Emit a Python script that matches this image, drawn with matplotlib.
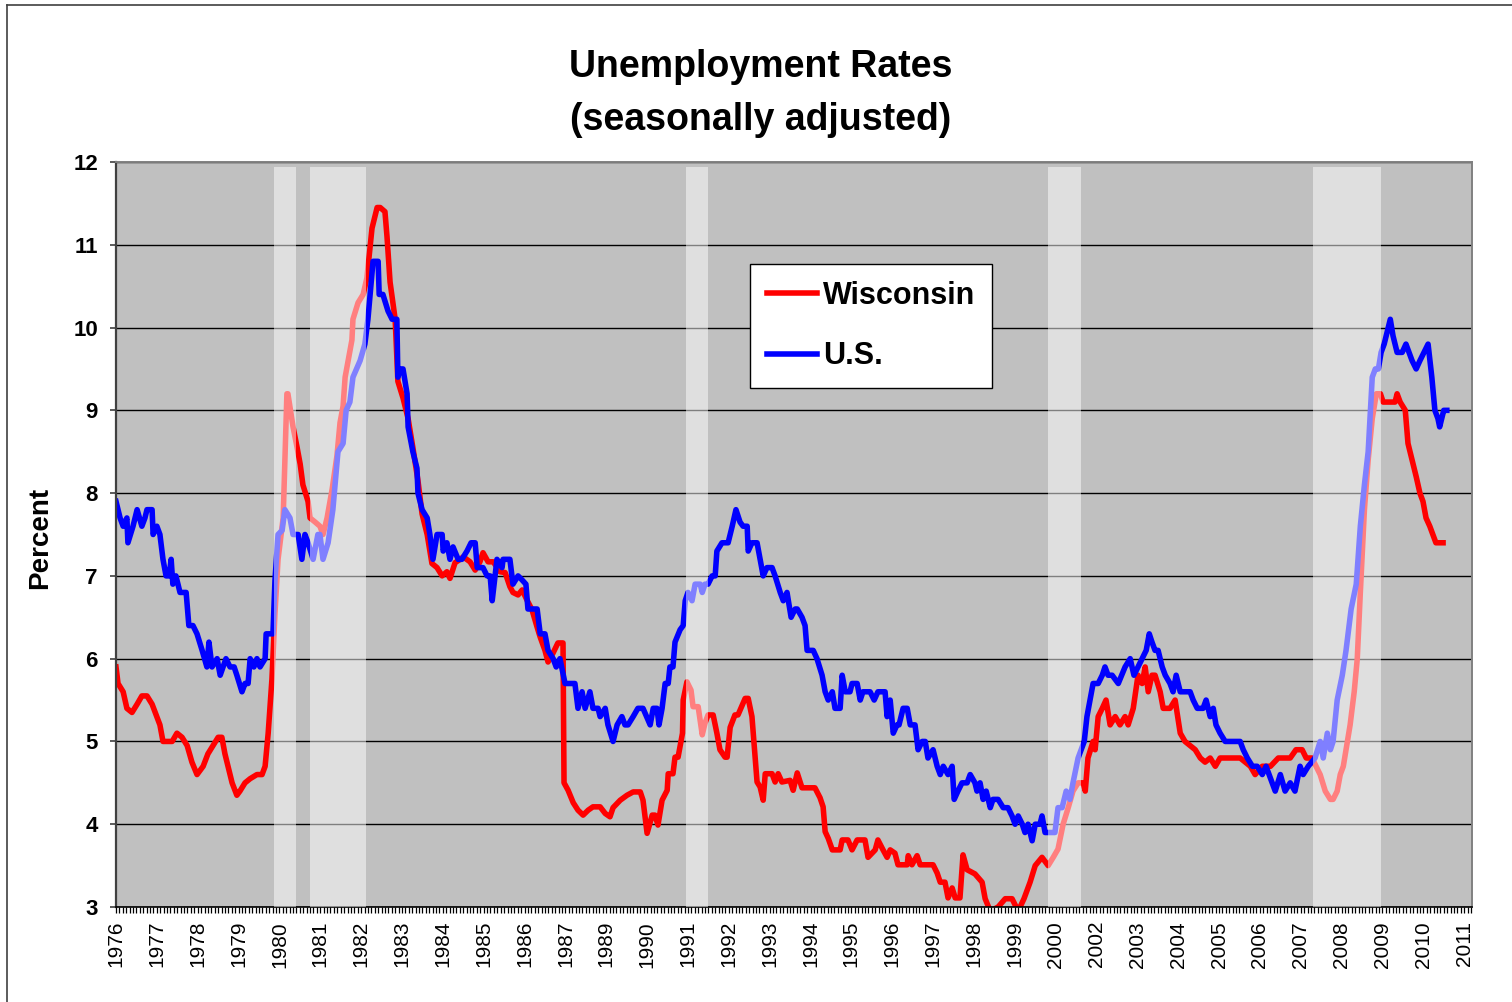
import matplotlib
matplotlib.use("Agg")
import matplotlib.pyplot as plt
from matplotlib.lines import Line2D
from matplotlib.ticker import FixedLocator, MultipleLocator

plt.rcParams['font.family'] = ['Liberation Sans', 'DejaVu Sans']

# ---------------- data (category index = month position on the chart's category axis) -------------
us_x = [0, 1.2, 2.1, 3.2, 3.5, 5.0, 6.2, 7.6, 8.5, 9.1, 10.6, 10.9, 12.0, 12.9, 13.8, 14.7, 15.6, 16.2,
        16.7, 17.6, 18.8, 20.6, 21.4, 22.6, 23.8, 25.3, 26.7, 27.3, 28.2, 29.7, 30.6, 32.3, 33.5, 34.7,
        35.5, 37.0, 37.9, 38.8, 39.4, 40.5, 41.4, 42.3, 43.8, 44.1, 46.1, 46.7, 47.6, 48.8, 49.6, 51.1,
        52.0, 53.5, 54.6, 55.5, 56.4, 57.9, 59.3, 59.9, 60.8, 62.3, 63.7, 65.2, 66.7, 67.6, 68.7, 69.6,
        71.7, 73.1, 74.0, 75.5, 77.0, 77.3, 78.4, 79.9, 81.1, 82.5, 82.8, 83.4, 84.3, 85.5, 85.8, 87.2,
        88.4, 88.7, 89.9, 91.4, 92.2, 93.1, 94.3, 95.8, 96.1, 97.2, 98.1, 99.0, 100.5, 101.6, 103.1,
        104.3, 105.5, 106.1, 107.8, 109.0, 109.9, 110.5, 111.9, 113.4, 113.7, 115.7, 116.6, 118.1,
        119.3, 120.4, 121.0, 123.7, 124.6, 126.0, 126.9, 128.4, 129.3, 130.4, 131.9, 134.8, 135.7,
        136.9, 137.8, 139.2, 140.1, 141.6, 142.2, 143.7, 144.5, 146.0, 147.2, 148.6, 149.5, 150.4,
        151.9, 153.3, 154.8, 156.9, 157.8, 158.9, 159.5, 160.4, 161.3, 162.2, 162.7, 163.6, 164.2,
        165.7, 166.6, 167.2, 168.0, 169.2, 170.1, 171.6, 172.2, 173.0, 173.9, 175.1, 176.0, 176.5,
        178.0, 179.8, 181.0, 182.1, 183.3, 184.2, 185.4, 185.7, 186.8, 188.3, 189.2, 190.1, 191.2,
        192.7, 193.6, 195.1, 196.0, 197.1, 198.3, 199.5, 200.1, 201.5, 202.4, 203.0, 204.8, 205.9,
        207.4, 208.3, 209.2, 210.4, 211.2, 212.7, 213.3, 214.2, 215.6, 216.2, 217.7, 218.6, 219.4,
        221.5, 222.7, 223.8, 225.9, 226.5, 227.4, 228.3, 229.4, 230.0, 231.2, 232.4, 233.3, 234.7,
        235.6, 236.8, 237.7, 238.5, 240.0, 241.2, 242.1, 243.0, 244.4, 245.6, 246.2, 247.3, 248.5,
        250.0, 250.9, 252.3, 252.9, 253.8, 254.7, 255.6, 256.8, 257.6, 259.1, 260.6, 262.0, 263.2,
        264.1, 265.0, 266.2, 267.0, 267.9, 269.1, 270.0, 271.4, 272.0, 272.9, 274.4, 275.8, 276.7,
        277.9, 279.1, 280.2, 281.1, 282.6, 283.5, 284.4, 285.2, 286.1, 287.0, 288.5, 289.7, 290.5,
        291.4, 292.6, 294.4, 296.4, 297.9, 299.0, 300.2, 301.4, 302.6, 303.5, 304.3, 305.2, 306.1,
        307.3, 308.2, 309.6, 310.5, 311.4, 312.6, 315.5, 316.4, 317.6, 319.3, 320.2, 321.4, 322.3,
        323.1, 324.3, 325.8, 330.2, 331.1, 332.3, 333.8, 335.2, 336.7, 337.8, 339.6, 340.5, 342.0,
        343.4, 344.9, 346.3, 347.8, 348.7, 350.2, 352.2, 353.7, 354.6, 355.8, 356.7, 357.5, 358.7,
        360.2, 361.3, 362.8, 364.3, 365.5, 366.7, 367.8, 369.0, 369.9, 370.8, 371.6, 372.5, 374.3,
        375.1, 376.3, 377.8, 378.9, 380.7, 381.9, 383.0, 384.2, 385.4, 386.5, 387.4, 388.3, 388.8,
        390.0, 390.9]
us_y = [7.9, 7.7, 7.6, 7.7, 7.4, 7.6, 7.8, 7.6, 7.7, 7.8, 7.8, 7.5, 7.6, 7.5, 7.2, 7.0, 7.0, 7.2,
        6.9, 7.0, 6.8, 6.8, 6.4, 6.4, 6.3, 6.1, 5.9, 6.2, 5.9, 6.0, 5.8, 6.0, 5.9, 5.9,
        5.8, 5.6, 5.7, 5.7, 6.0, 5.9, 6.0, 5.9, 6.0, 6.3, 6.3, 6.95, 7.5, 7.55, 7.8, 7.7,
        7.5, 7.5, 7.2, 7.5, 7.4, 7.2, 7.5, 7.5, 7.2, 7.4, 7.8, 8.5, 8.6, 9.0, 9.1, 9.4,
        9.6, 9.8, 10.1, 10.8, 10.8, 10.4, 10.4, 10.2, 10.1, 10.1, 9.4, 9.5, 9.5, 9.2, 8.8, 8.5,
        8.3, 8.0, 7.8, 7.7, 7.5, 7.2, 7.5, 7.5, 7.3, 7.4, 7.2, 7.35, 7.2, 7.2, 7.3,
        7.4, 7.4, 7.1, 7.1, 7.0, 7.0, 6.7, 7.2, 7.1, 7.2, 7.2, 6.9, 7.0,
        6.95, 6.9, 6.6, 6.6, 6.3, 6.3, 6.1, 6.0, 5.9, 6.0, 5.7, 5.7, 5.4,
        5.6, 5.4, 5.6, 5.4, 5.4, 5.3, 5.4, 5.2, 5.0, 5.2, 5.3, 5.2, 5.2,
        5.3, 5.4, 5.4, 5.2, 5.4, 5.4, 5.2, 5.4, 5.7, 5.7, 5.9, 5.9, 6.2,
        6.35, 6.4, 6.7, 6.8, 6.7, 6.9, 6.9, 6.8, 6.9, 6.9, 7.0, 7.0, 7.3,
        7.4, 7.4, 7.6, 7.8, 7.65, 7.6, 7.6, 7.3, 7.4, 7.4, 7.2, 7.0, 7.1,
        7.1, 7.0, 6.8, 6.7, 6.8, 6.5, 6.6, 6.6, 6.5, 6.4, 6.1, 6.1, 6.0,
        5.8, 5.6, 5.5, 5.6, 5.4, 5.4, 5.8, 5.6, 5.6, 5.7, 5.7, 5.5, 5.6,
        5.6, 5.5, 5.6, 5.6, 5.3, 5.5, 5.1, 5.2, 5.2, 5.4, 5.4, 5.2, 5.2,
        4.9, 5.0, 5.0, 4.8, 4.9, 4.7, 4.6, 4.7, 4.6, 4.7, 4.3, 4.4, 4.5,
        4.5, 4.6, 4.5, 4.4, 4.5, 4.3, 4.4, 4.2, 4.3, 4.3, 4.2, 4.2, 4.1,
        4.0, 4.1, 4.0, 3.9, 4.0, 3.8, 4.0, 4.0, 4.1, 3.9, 3.9, 3.9, 4.2,
        4.2, 4.4, 4.3, 4.5, 4.8, 4.9, 5.0, 5.3, 5.5, 5.7, 5.7, 5.8, 5.9,
        5.8, 5.8, 5.7, 5.9, 6.0, 5.8, 5.9, 6.0, 6.1, 6.3, 6.2, 6.1, 6.1,
        5.9, 5.8, 5.7, 5.6, 5.8, 5.6, 5.6, 5.5, 5.4, 5.4, 5.5, 5.3, 5.4,
        5.2, 5.1, 5.0, 5.0, 4.9, 4.8, 4.7, 4.7, 4.6, 4.7, 4.5, 4.4, 4.6,
        4.4, 4.5, 4.4, 4.7, 4.6, 4.7, 4.8, 5.0, 4.8, 5.1, 4.9, 5.0, 5.5,
        5.8, 6.1, 6.6, 6.9, 7.6, 8.1, 8.5, 9.4, 9.5, 9.5, 9.7, 9.8, 10.1,
        9.9, 9.7, 9.7, 9.8, 9.6, 9.5, 9.6, 9.7, 9.8, 9.4, 9.0, 8.9, 8.8,
        9.0, 9.0]

wi_x = [0, 0.6, 2.1, 3.2, 4.7, 6.2, 7.6, 9.1, 10.6, 12.0, 12.9, 13.8, 15.0, 16.5, 17.9, 19.4, 20.9,
        22.3, 23.8, 25.6, 27.0, 28.5, 30.0, 31.1, 32.0, 32.9, 34.1, 35.5, 36.4, 37.9, 39.4, 41.4,
        42.9, 43.8, 44.7, 45.8, 46.7, 47.6, 49.1, 50.2, 50.5, 52.0, 53.2, 54.1, 54.9, 56.4, 57.0,
        58.5, 59.9, 60.8, 62.0, 63.5, 64.9, 65.8, 66.7, 67.3, 68.2, 69.3, 69.6, 71.1, 72.6, 73.7,
        75.2, 76.7, 77.6, 79.0, 79.6, 80.5, 82.0, 82.8, 84.3, 85.8, 87.2, 88.7, 89.9, 91.4, 92.8,
        94.3, 95.8, 97.2, 98.1, 99.6, 101.1, 102.0, 104.0, 105.5, 106.9, 107.8, 109.3, 110.8, 112.8,
        114.3, 115.7, 116.6, 118.1, 119.3, 120.7, 122.2, 123.7, 124.6, 126.0, 126.9, 128.4, 129.8,
        131.3, 131.6, 132.8, 134.3, 135.7, 137.2, 138.7, 140.1, 142.2, 143.7, 145.1, 146.0, 148.1,
        150.1, 151.9, 154.0, 154.8, 156.0, 157.5, 158.3, 159.2, 160.4, 161.9, 162.2, 163.6, 164.2,
        165.1, 166.4, 166.6, 167.7, 168.9, 169.5, 171.0, 172.2, 173.0, 173.9, 175.4, 176.5, 177.4,
        178.9, 179.5, 180.4, 181.8, 182.7, 184.8, 185.7, 186.8, 188.3, 189.2, 190.1, 190.7, 192.7,
        193.6, 194.5, 195.6, 198.0, 198.9, 200.1, 201.5, 205.3, 206.8, 207.7, 208.3, 209.2, 210.4,
        212.7, 213.3, 215.0, 216.2, 217.7, 220.0, 220.9, 223.0, 223.8, 225.3, 226.5, 227.4, 228.8,
        229.7, 232.4, 232.7, 233.8, 235.3, 236.2, 240.0, 241.2, 242.1, 243.5, 244.4, 245.6, 246.5,
        247.9, 248.8, 250.0, 252.3, 254.4, 255.3, 256.8, 259.1, 261.2, 263.2, 265.0, 266.7, 268.5,
        270.0, 272.0, 273.8, 275.3, 276.7, 278.2, 279.7, 281.1, 282.6, 284.1, 284.7, 285.5, 287.0,
        287.6, 288.5, 289.7, 290.8, 292.0, 293.5, 294.9, 296.4, 297.3, 298.8, 300.2, 301.4, 302.3,
        303.2, 304.3, 305.2, 306.7, 307.6, 309.6, 311.1, 312.6, 314.0, 315.5, 317.0, 318.5, 319.9,
        321.4, 322.9, 324.3, 330.2, 333.2, 334.6, 336.7, 339.1, 341.4, 344.9, 346.6, 348.4, 349.6,
        351.3, 352.5, 353.7, 355.2, 356.7, 357.5, 358.7, 359.6, 360.5, 361.3, 362.5, 363.7, 364.6,
        365.5, 366.7, 367.8, 369.0, 370.2, 371.4, 372.2, 375.7, 376.3, 377.2, 378.7, 379.5, 380.7,
        381.9, 383.0, 383.9, 384.8, 385.9, 386.8, 387.7, 389.8]
wi_y = [5.9, 5.7, 5.6, 5.4, 5.35, 5.45, 5.55, 5.55, 5.45, 5.3, 5.2, 5.0, 5.0, 5.0, 5.1, 5.05, 4.95,
        4.75, 4.6, 4.7, 4.85, 4.95, 5.05, 5.05, 4.85, 4.7, 4.5, 4.35, 4.4, 4.5, 4.55, 4.6,
        4.6, 4.7, 5.1, 5.75, 6.55, 7.2, 7.7, 9.2, 9.2, 8.8, 8.55, 8.35, 8.1, 7.9, 7.7,
        7.65, 7.6, 7.5, 7.7, 8.05, 8.45, 8.85, 9.05, 9.4, 9.6, 9.85, 10.1, 10.3, 10.4, 10.6,
        11.2, 11.45, 11.45, 11.4, 11.1, 10.55, 10.1, 9.35, 9.15, 8.9, 8.55, 8.15, 7.75, 7.5, 7.15,
        7.1, 7.0, 7.05, 6.97, 7.16, 7.2, 7.23, 7.17, 7.07, 7.17, 7.28, 7.17, 7.17, 7.05,
        7.04, 6.87, 6.8, 6.77, 6.83, 6.71, 6.59, 6.38, 6.26, 6.1, 5.96, 6.07, 6.19,
        6.19, 4.5, 4.41, 4.26, 4.17, 4.11, 4.17, 4.21, 4.21, 4.13, 4.09, 4.2, 4.29,
        4.35, 4.39, 4.39, 4.29, 3.89, 4.11, 4.11, 3.99, 4.29, 4.41, 4.61, 4.61, 4.81,
        4.81, 5.1, 5.5, 5.72, 5.62, 5.42, 5.42, 5.08, 5.22, 5.32, 5.32, 5.1, 4.9,
        4.81, 4.81, 5.17, 5.32, 5.32, 5.52, 5.52, 5.3, 4.51, 4.45, 4.29, 4.61, 4.61,
        4.51, 4.61, 4.51, 4.53, 4.41, 4.62, 4.44, 4.44, 4.32, 4.21, 3.91, 3.83, 3.69,
        3.69, 3.81, 3.81, 3.69, 3.81, 3.81, 3.6, 3.69, 3.81, 3.69, 3.6, 3.69, 3.65,
        3.51, 3.51, 3.62, 3.51, 3.62, 3.51, 3.51, 3.41, 3.3, 3.3, 3.11, 3.23, 3.11,
        3.11, 3.63, 3.45, 3.4, 3.3, 3.1, 2.95, 3.0, 3.1, 3.1, 2.95, 3.1, 3.3,
        3.5, 3.6, 3.5, 3.6, 3.7, 4.0, 4.2, 4.4, 4.5, 4.5, 4.4, 4.8, 5.0,
        4.9, 5.3, 5.4, 5.5, 5.2, 5.3, 5.2, 5.3, 5.2, 5.4, 5.8, 5.7, 5.9,
        5.6, 5.8, 5.8, 5.6, 5.4, 5.4, 5.5, 5.1, 5.0, 4.95, 4.9, 4.8, 4.75,
        4.8, 4.7, 4.8, 4.8, 4.7, 4.6, 4.7, 4.7, 4.8, 4.8, 4.9, 4.9, 4.8,
        4.8, 4.7, 4.6, 4.4, 4.3, 4.3, 4.4, 4.6, 4.7, 4.9, 5.2, 5.6, 6.0,
        6.8, 7.8, 8.4, 8.9, 9.2, 9.2, 9.1, 9.1, 9.2, 9.1, 9.0, 8.6, 8.4,
        8.2, 8.0, 7.9, 7.7, 7.6, 7.5, 7.4, 7.4]

recession_start = [46.4, 57.0, 167.4, 273.8, 351.6]
recession_end = [52.9, 73.4, 173.9, 283.5, 371.6]

year_labels = ['1976', '1977', '1978', '1979', '1980', '1981', '1982', '1983', '1984', '1985',
               '1986', '1987', '1989', '1990', '1991', '1992', '1993', '1994', '1995', '1996',
               '1997', '1998', '1999', '2000', '2002', '2003', '2004', '2005', '2006', '2007',
               '2008', '2009', '2010', '2011']
n_categories = 398.3

# ---------------- figure ----------------
W, H, DPI = 1512, 1002, 100
fig = plt.figure(figsize=(W / DPI, H / DPI), dpi=DPI, facecolor='white')
ax = fig.add_axes([116 / W, 1 - 907 / H, (1472 - 116) / W, (907 - 162) / H])
ax.set_facecolor('#C0C0C0')

ax.set_xlim(0, n_categories)
ax.set_ylim(3, 12)

# gridlines
ax.set_yticks(range(3, 13))
ax.yaxis.grid(True, color='#000000', linewidth=1.0, zorder=1)
ax.set_axisbelow(True)

ax.plot(wi_x, wi_y, color='#FF0000', linewidth=4.0, zorder=2, label='Wisconsin',
        solid_joinstyle='round')
ax.plot(us_x, us_y, color='#0000FF', linewidth=4.0, zorder=2.1, label='U.S.',
        solid_joinstyle='round')

for s, e in zip(recession_start, recession_end):
    ax.axvspan(s, e, ymin=0, ymax=0.993, facecolor='white', alpha=0.5, linewidth=0, zorder=3)

# axes ticks
label_pos = [12 * k for k in range(len(year_labels))]
ax.xaxis.set_major_locator(FixedLocator(label_pos))
ax.set_xticklabels(year_labels, rotation=90, fontsize=15)
ax.xaxis.set_minor_locator(MultipleLocator(1))
ax.tick_params(axis='x', which='both', direction='out', length=4, width=0.9, color='#000000', pad=6)
ax.tick_params(axis='y', which='major', direction='out', length=4, width=1.2, color='#404040',
               labelsize=16, pad=9)
for lab in ax.get_yticklabels():
    lab.set_fontweight('bold')

for side in ('top', 'right'):
    ax.spines[side].set_color('#808080')
    ax.spines[side].set_linewidth(1.4)
ax.spines['left'].set_color('#404040')
ax.spines['left'].set_linewidth(1.6)
ax.spines['bottom'].set_color('#000000')
ax.spines['bottom'].set_linewidth(1.2)

leg = ax.legend(loc='upper left', bbox_to_anchor=((750 - 116) / 1356, (907 - 264) / 745),
                borderaxespad=0, prop={'weight': 'bold', 'size': 22}, frameon=True,
                fancybox=False, shadow=False, framealpha=1, edgecolor='#000000',
                handlelength=1.65, handletextpad=0.2, borderpad=0.55, labelspacing=1.0)
leg.get_frame().set_linewidth(1.0)
leg.set_zorder(10)

# title and y label
fig.text(761 / W, 1 - 67 / H, 'Unemployment Rates', ha='center', va='center',
         fontsize=27, fontweight='bold')
fig.text(761 / W, 1 - 120 / H, '(seasonally adjusted)', ha='center', va='center',
         fontsize=27, fontweight='bold')
fig.text(40 / W, 1 - 538 / H, 'Percent', rotation=90, ha='center', va='center',
         fontsize=20, fontweight='bold')

# outer chart border (top and left visible)
fig.add_artist(Line2D([7 / W, 1.0], [1 - 5 / H, 1 - 5 / H], transform=fig.transFigure,
                      color='#404040', linewidth=1.2))
fig.add_artist(Line2D([7 / W, 7 / W], [0, 1 - 5 / H], transform=fig.transFigure,
                      color='#404040', linewidth=1.2))

fig.savefig('out.png', dpi=DPI, facecolor='white')
